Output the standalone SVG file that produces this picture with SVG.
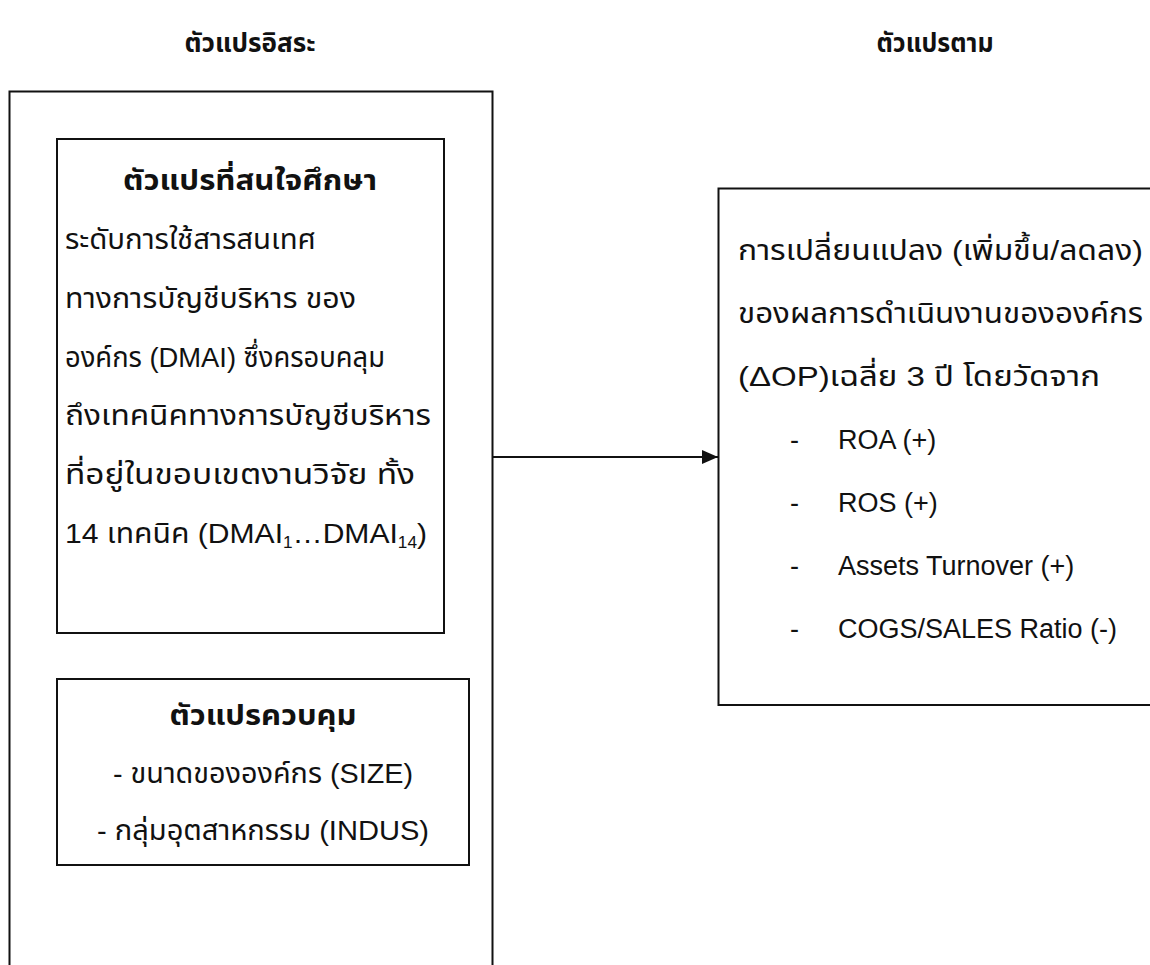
<svg xmlns="http://www.w3.org/2000/svg" width="1150" height="965" viewBox="0 0 1150 965">
<style>
.t{font-family:"Liberation Sans","Noto Sans Thai","Noto Sans",sans-serif;font-size:28px;fill:#111}
.l{font-size:27px}
.h{font-size:26px;font-weight:bold}
.b{font-weight:bold}
.box{fill:none;stroke:#111;stroke-width:2}
.c{stroke:#111;stroke-width:2;fill:none}
</style>
<defs>
<marker id="ah" markerWidth="16" markerHeight="14" refX="16" refY="7" orient="auto" markerUnits="userSpaceOnUse">
<path d="M0,0 L16,7 L0,14 Z" fill="#111"/>
</marker>
</defs>
<rect width="1150" height="965" fill="#fff"/>
<text class="t h" x="250" y="52" text-anchor="middle" textLength="131" lengthAdjust="spacingAndGlyphs">ตัวแปรอิสระ</text>
<text class="t h" x="935" y="52" text-anchor="middle" textLength="117" lengthAdjust="spacingAndGlyphs">ตัวแปรตาม</text>
<g id="outer">
<path class="box" d="M9.5,966 V91.5 H492.5 V966"/>
</g>
<g id="interest">
<rect class="box" x="57" y="139" width="387" height="494"/>
<text class="t b" x="250" y="190" text-anchor="middle" textLength="254" lengthAdjust="spacingAndGlyphs">ตัวแปรที่สนใจศึกษา</text>
<text class="t" x="65" y="249" textLength="251" lengthAdjust="spacingAndGlyphs">ระดับการใช้สารสนเทศ</text>
<text class="t" x="65" y="308" textLength="291" lengthAdjust="spacingAndGlyphs">ทางการบัญชีบริหาร ของ</text>
<text class="t" x="65" y="367" textLength="320" lengthAdjust="spacingAndGlyphs">องค์กร (DMAI) ซึ่งครอบคลุม</text>
<text class="t" x="65" y="425" textLength="366" lengthAdjust="spacingAndGlyphs">ถึงเทคนิคทางการบัญชีบริหาร</text>
<text class="t" x="65" y="484" textLength="350" lengthAdjust="spacingAndGlyphs">ที่อยู่ในขอบเขตงานวิจัย ทั้ง</text>
<text class="t" x="65" y="543" textLength="362" lengthAdjust="spacingAndGlyphs">14 เทคนิค (DMAI<tspan font-size="16" dy="5">1</tspan><tspan dy="-5">…DMAI</tspan><tspan font-size="16" dy="5">14</tspan><tspan dy="-5">)</tspan></text>
</g>
<g id="control">
<rect class="box" x="57" y="679" width="412" height="186"/>
<text class="t b" x="263" y="725" text-anchor="middle" textLength="187" lengthAdjust="spacingAndGlyphs">ตัวแปรควบคุม</text>
<text class="t" x="263" y="783" text-anchor="middle" textLength="300" lengthAdjust="spacingAndGlyphs">- ขนาดขององค์กร (SIZE)</text>
<text class="t" x="263" y="840" text-anchor="middle" textLength="332" lengthAdjust="spacingAndGlyphs">- กลุ่มอุตสาหกรรม (INDUS)</text>
</g>
<g id="dependent">
<path class="box" d="M1151,188.5 H718.5 V705 H1151"/>
<text class="t" x="738" y="260" textLength="405" lengthAdjust="spacingAndGlyphs">การเปลี่ยนแปลง (เพิ่มขึ้น/ลดลง)</text>
<text class="t" x="738" y="323" textLength="405" lengthAdjust="spacingAndGlyphs">ของผลการดำเนินงานขององค์กร</text>
<text class="t" x="738" y="386" textLength="362" lengthAdjust="spacingAndGlyphs">(ΔOP)เฉลี่ย 3 ปี โดยวัดจาก</text>
<text class="t l" x="790" y="449">-</text><text class="t l" x="838" y="449">ROA (+)</text>
<text class="t l" x="790" y="512">-</text><text class="t l" x="838" y="512">ROS (+)</text>
<text class="t l" x="790" y="575">-</text><text class="t l" x="838" y="575">Assets Turnover (+)</text>
<text class="t l" x="790" y="638">-</text><text class="t l" x="838" y="638">COGS/SALES Ratio (-)</text>
</g>
<g id="connectors">
<line class="c" x1="493" y1="457" x2="718" y2="457" marker-end="url(#ah)"/>
</g>
</svg>
